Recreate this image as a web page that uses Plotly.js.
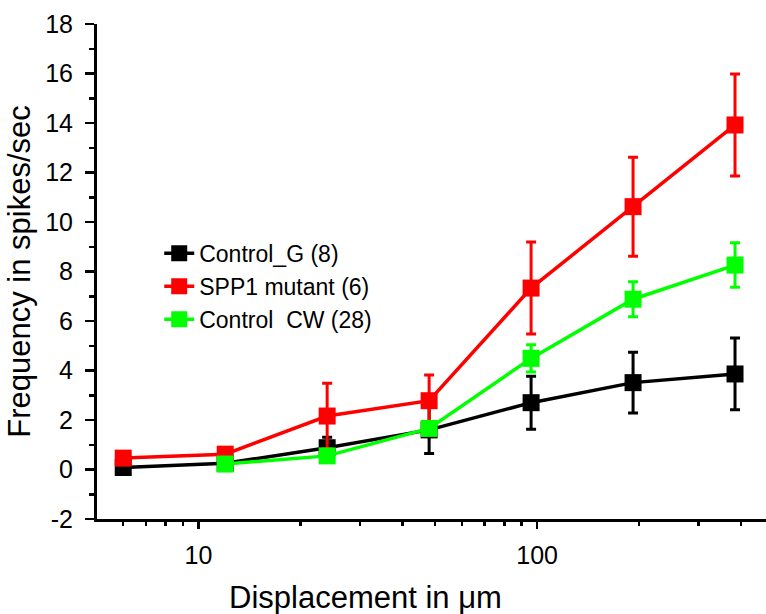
<!DOCTYPE html>
<html>
<head>
<meta charset="utf-8">
<script src="https://cdn.plot.ly/plotly-3.0.1.min.js"></script>
<style>html,body{margin:0;padding:0;background:#fff;}#chart{width:766px;height:614px;}</style>
</head>
<body>
<div id="chart"></div>
<script>
// Displacement (µm)
const displacement = [6, 12, 24, 48, 96, 192, 384];

// Control_G (8)
const controlG = [0.08, 0.25, 0.88, 1.60, 2.70, 3.51, 3.86];
const controlGErr = [0.22, 0.10, 0.42, 0.95, 1.07, 1.23, 1.45];

// SPP1 mutant (6)
const spp1 = [0.46, 0.62, 2.16, 2.78, 7.33, 10.62, 13.92];
const spp1Err = [0.15, 0.10, 1.32, 1.04, 1.86, 2.00, 2.06];

// Control CW (28)
const controlCW = [null, 0.22, 0.55, 1.66, 4.49, 6.88, 8.26];
const controlCWErr = [null, 0.20, 0.12, 0.20, 0.55, 0.71, 0.90];

const seriesNames = ["Control_G (8)", "SPP1 mutant (6)", "Control\u00a0 CW (28)"];

const xTickVals = [10, 100];
const xTickText = ["10", "100"];
const yTickVals = [-2, 0, 2, 4, 6, 8, 10, 12, 14, 16, 18];
const yTickText = ["-2", "0", "2", "4", "6", "8", "10", "12", "14", "16", "18"];

const FONT = "Arial, 'Liberation Sans', Helvetica, sans-serif";

function mk(name, y, err, color) {
  return {
    type: "scatter",
    mode: "lines+markers",
    name: name,
    x: displacement,
    y: y,
    line: {color: color, width: 3.5},
    marker: {symbol: "square", size: 17, color: color},
    error_y: {type: "data", array: err, visible: true, color: color, thickness: 3, width: 5},
    connectgaps: false
  };
}

const data = [
  mk(seriesNames[0], controlG, controlGErr, "#000000"),
  mk(seriesNames[1], spp1, spp1Err, "#ff0000"),
  mk(seriesNames[2], controlCW, controlCWErr, "#00ff00")
];

const layout = {
  width: 766,
  height: 614,
  margin: {l: 97, r: 0, t: 24, b: 95, pad: 0},
  paper_bgcolor: "#ffffff",
  plot_bgcolor: "#ffffff",
  font: {family: FONT, color: "#000000"},
  showlegend: true,
  legend: {
    x: 0.093, y: 0.58, xanchor: "left", yanchor: "top",
    bgcolor: "rgba(0,0,0,0)",
    font: {family: FONT, size: 23, color: "#000000"},
    tracegroupgap: 0,
    itemwidth: 30
  },
  xaxis: {
    type: "log",
    range: [Math.log10(5.02), Math.log10(474)],
    tickmode: "array",
    tickvals: xTickVals,
    ticktext: xTickText,
    ticks: "outside",
    ticklen: 7,
    tickwidth: 2.5,
    tickcolor: "#000000",
    showline: true,
    linecolor: "#000000",
    linewidth: 3,
    showgrid: false,
    zeroline: false,
    tickfont: {family: FONT, size: 25, color: "#000000"},
    ticklabelstandoff: 5,
    minor: {ticks: "outside", ticklen: 4, tickwidth: 2.5, tickcolor: "#000000", dtick: "D1", showgrid: false},
    automargin: false
  },
  yaxis: {
    range: [-2, 18],
    tickmode: "array",
    tickvals: yTickVals,
    ticktext: yTickText,
    ticks: "outside",
    ticklen: 9,
    tickwidth: 2.5,
    tickcolor: "#000000",
    showline: true,
    linecolor: "#000000",
    linewidth: 3,
    showgrid: false,
    zeroline: false,
    tickfont: {family: FONT, size: 25, color: "#000000"},
    ticklabelstandoff: 7,
    minor: {ticks: "outside", ticklen: 5, tickwidth: 2.5, tickcolor: "#000000", dtick: 1, showgrid: false},
    title: {text: "Frequency in spikes/sec", font: {family: FONT, size: 31, color: "#000000"}, standoff: 6},
    automargin: false
  },
  annotations: [{
    text: "Displacement in \u03bcm",
    xref: "paper", yref: "paper",
    x: (365 - 97) / 669, y: (519 - 597) / 495,
    xanchor: "center", yanchor: "middle",
    showarrow: false,
    font: {family: FONT, size: 31, color: "#000000"}
  }]
};

Plotly.newPlot("chart", data, layout, {displayModeBar: false, staticPlot: true});
</script>
</body>
</html>
